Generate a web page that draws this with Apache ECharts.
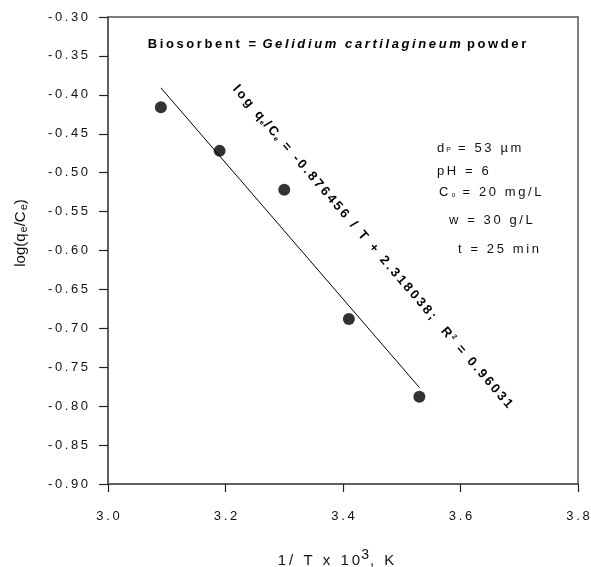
<!DOCTYPE html>
<html>
<head>
<meta charset="utf-8">
<script src="https://cdn.jsdelivr.net/npm/echarts@6/dist/echarts.min.js"></script>
<style>
  html, body { margin: 0; padding: 0; background: #fff; }
  #chart { width: 591px; height: 567px; }
</style>
</head>
<body>
<div id="chart"></div>
<script>
// 实验数据 (1/T x 10^3 vs log(qe/Ce))
const invT = [3.09, 3.19, 3.30, 3.41, 3.53];
const logQC = [-0.416, -0.472, -0.522, -0.688, -0.788];
// 拟合直线两端
const fitX = [3.09, 3.53];
const fitY = [-0.391, -0.776];
// 坐标轴范围
const xMin = 3.0, xMax = 3.8, xStep = 0.2;
const yMin = -0.9, yMax = -0.3, yStep = 0.05;

const FONT = '"Liberation Sans", Arial, sans-serif';
// 字间距
const sp = s => s.split('').join('\u2009');

const chart = echarts.init(document.getElementById('chart'));

const option = {
  animation: false,
  grid: {
    left: 108, right: 13, top: 17, bottom: 83,
    outerBoundsMode: 'none',
    show: true, borderColor: '#555', borderWidth: 1.5
  },
  xAxis: {
    type: 'value', min: xMin, max: xMax, interval: xStep,
    axisLine: { lineStyle: { color: '#555', width: 1.5 } },
    axisTick: { length: 8, lineStyle: { color: '#222', width: 1.2 } },
    splitLine: { show: false },
    axisLabel: {
      margin: 26, color: '#111', fontFamily: FONT, fontSize: 13,
      formatter: v => sp(v.toFixed(1))
    },
    name: '{a|' + sp('1/ T x 10') + '}{sup|3}{a|' + sp(', K') + '}',
    nameLocation: 'middle',
    nameGap: 64,
    nameTextStyle: {
      padding: [0, 14, 0, 0],
      rich: {
        a: { fontFamily: FONT, fontSize: 15, color: '#111' },
        sup: { fontFamily: FONT, fontSize: 14, color: '#111', padding: [0, 1, 12, 1] }
      }
    }
  },
  yAxis: {
    type: 'value', min: yMin, max: yMax, interval: yStep,
    axisLine: { lineStyle: { color: '#555', width: 1.5 } },
    axisTick: { length: 9, lineStyle: { color: '#222', width: 1.2 } },
    splitLine: { show: false },
    axisLabel: {
      margin: 20, color: '#111', fontFamily: FONT, fontSize: 13,
      formatter: v => sp(v.toFixed(2))
    }
  },
  graphic: [
    {
      type: 'text', x: 21, y: 233, rotation: Math.PI / 2,
      style: {
        text: '{a|log(q}{s|e}{a|/C}{s|e}{a|)}',
        align: 'center', verticalAlign: 'middle',
        rich: {
          a: { fontFamily: FONT, fontSize: 15, fill: '#111' },
          s: { fontFamily: FONT, fontSize: 11, fill: '#111', padding: [6, 0, 0, 1] }
        }
      }
    },
    {
      type: 'text', x: 337, y: 44,
      style: {
        text: '{b|' + sp('Biosorbent = ') + '}{i|' + sp('Gelidium cartilagineum') + '}{b|' + sp(' powder') + '}',
        align: 'center', verticalAlign: 'middle',
        rich: {
          b: { fontFamily: FONT, fontSize: 13, fontWeight: 'bold', fill: '#000' },
          i: { fontFamily: FONT, fontSize: 13, fontWeight: 'bold', fontStyle: 'italic', fill: '#000' }
        }
      }
    },
    {
      type: 'text', x: 235, y: 87, rotation: -0.86,
      style: {
        text: '{b|' + sp('log q') + '}{s|e}{b|' + sp('/C') + '}{s|e}{b|' + sp(' = -0.876456 / T + 2.318038;') +
          '    ' + sp('R') + '}{sup|2}{b|' + sp(' = 0.96031') + '}',
        align: 'left', verticalAlign: 'middle',
        rich: {
          b: { fontFamily: FONT, fontSize: 13, fontWeight: 'bold', fill: '#000' },
          s: { fontFamily: FONT, fontSize: 7, fontWeight: 'bold', fill: '#000', padding: [6, 1, 0, 1] },
          sup: { fontFamily: FONT, fontSize: 7, fontWeight: 'bold', fill: '#000', padding: [0, 2, 6, 2] }
        }
      }
    },
    {
      type: 'text', x: 437, y: 148,
      style: {
        text: '{a|d}{s|P}{a|' + sp(' = 53 µm') + '}',
        align: 'left', verticalAlign: 'middle',
        rich: {
          a: { fontFamily: FONT, fontSize: 13, fill: '#111' },
          s: { fontFamily: FONT, fontSize: 7, fill: '#111', padding: [5, 1, 0, 2] }
        }
      }
    },
    {
      type: 'text', x: 437, y: 171,
      style: { text: sp('pH = 6'), font: '13px ' + FONT, fill: '#111', align: 'left', verticalAlign: 'middle' }
    },
    {
      type: 'text', x: 439, y: 192,
      style: {
        text: '{a|C}{s|o}{a|' + sp(' = 20 mg/L') + '}',
        align: 'left', verticalAlign: 'middle',
        rich: {
          a: { fontFamily: FONT, fontSize: 13, fill: '#111' },
          s: { fontFamily: FONT, fontSize: 7, fill: '#111', padding: [6, 1, 0, 3] }
        }
      }
    },
    {
      type: 'text', x: 449, y: 220,
      style: { text: sp('w = 30 g/L'), font: '13px ' + FONT, fill: '#111', align: 'left', verticalAlign: 'middle' }
    },
    {
      type: 'text', x: 458, y: 249,
      style: { text: sp('t = 25 min'), font: '13px ' + FONT, fill: '#111', align: 'left', verticalAlign: 'middle' }
    }
  ],
  series: [
    {
      name: 'fit',
      type: 'line',
      data: fitX.map((x, i) => [x, fitY[i]]),
      showSymbol: false,
      lineStyle: { color: '#000', width: 1 },
      silent: true
    },
    {
      name: 'data',
      type: 'scatter',
      data: invT.map((x, i) => [x, logQC[i]]),
      symbol: 'circle',
      symbolSize: 12,
      itemStyle: { color: '#000' }
    }
  ]
};

chart.setOption(option);
</script>
</body>
</html>
